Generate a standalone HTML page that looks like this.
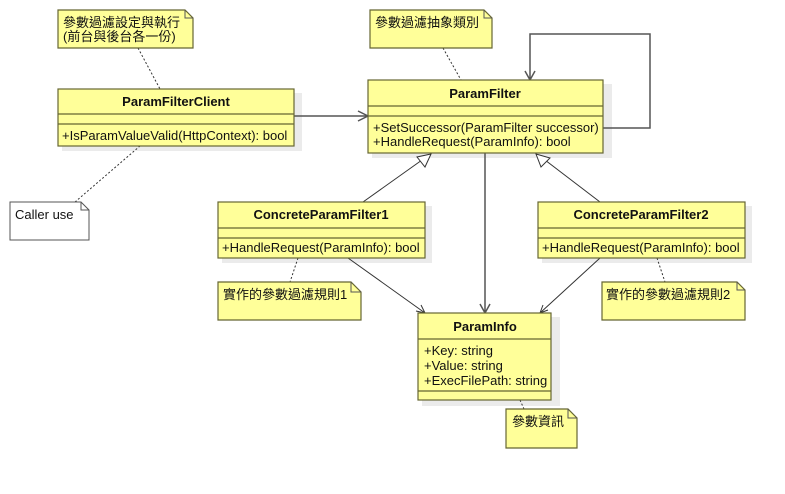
<!DOCTYPE html>
<html><head><meta charset="utf-8"><style>
body{margin:0;background:#fff}
text{font-family:"Liberation Sans","Noto Sans CJK TC",sans-serif;font-size:13px;fill:#111}
.b{font-weight:bold}
</style></head><body>
<svg width="785" height="489" viewBox="0 0 785 489" xmlns="http://www.w3.org/2000/svg">
<g fill="#ebebeb">
<rect x="62" y="93" width="240" height="58"/>
<rect x="372" y="84" width="240" height="74"/>
<rect x="222" y="206" width="210" height="57"/>
<rect x="542" y="206" width="210" height="57"/>
<rect x="422" y="317" width="138" height="89"/>
</g>
<g stroke="#555" fill="none" stroke-width="1.5">
<path d="M294,116H368M358,111L368,116L358,121"/>
<path d="M603,128H650V34H530V80M525,71L530,80L535,71"/>
<path d="M485,153V313M480,304L485,313L490,304"/>
</g>
<g stroke="#333" fill="none" stroke-width="1">
<path d="M363,202L422,160"/>
<path d="M600,202L545,160"/>
<path d="M348,258L425,313M416,311L425,313L421,305"/>
<path d="M600,258L540,313M543,305L540,313L548,310"/>
</g>
<g stroke="#fff" fill="#fff"><polygon points="431,154 425,167 417,157" stroke="#333"/><polygon points="536,154 550,158 541,167" stroke="#333"/></g>
<g stroke="#333" stroke-dasharray="2,2" fill="none">
<path d="M138,48L160,89M75,202L140,146M443,48L461,80M298,258L290,282M657,258L665,282M520,400L524,409"/>
</g>
<g fill="#ffff99" stroke="#666633" stroke-width="1.2">
<path d="M58,10H185L193,18V48H58Z"/>
<path d="M370,10H484L492,18V48H370Z"/>
<path d="M218,282H351L361,292V320H218Z"/>
<path d="M602,282H737L745,290V320H602Z"/>
<path d="M506,409H568L577,418V448H506Z"/>
<rect x="58" y="89" width="236" height="57"/>
<rect x="368" y="80" width="235" height="73"/>
<rect x="218" y="202" width="207" height="56"/>
<rect x="538" y="202" width="207" height="56"/>
<rect x="418" y="313" width="133" height="87"/>
</g>
<path d="M10,202H81L89,210V240H10Z" fill="#fff" stroke="#555"/>
<g fill="none" stroke="#555">
<path d="M185,10V18H193M484,10V18H492M351,282V292H361M737,282V290H745M568,409V418H577M81,202V210H89"/>
</g>
<g stroke="#666633" stroke-width="1.2">
<path d="M58,114H294M58,124H294M368,106H603M368,116H603M218,228H425M218,238H425M538,228H745M538,238H745M418,339H551M418,391H551"/>
</g>
<text x="63" y="27">參數過濾設定與執行</text>
<text x="63" y="41">(前台與後台各一份)</text>
<text x="375" y="27">參數過濾抽象類別</text>
<text x="15" y="219" fill="#444">Caller use</text>
<text x="223" y="299">實作的參數過濾規則1</text>
<text x="606" y="299">實作的參數過濾規則2</text>
<text x="512" y="426">參數資訊</text>
<text class="b" x="176" y="106" text-anchor="middle">ParamFilterClient</text>
<text x="62" y="140">+IsParamValueValid(HttpContext): bool</text>
<text class="b" x="485" y="98" text-anchor="middle">ParamFilter</text>
<text x="373" y="132">+SetSuccessor(ParamFilter successor)</text>
<text x="373" y="146">+HandleRequest(ParamInfo): bool</text>
<text class="b" x="321" y="219" text-anchor="middle">ConcreteParamFilter1</text>
<text x="222" y="252">+HandleRequest(ParamInfo): bool</text>
<text class="b" x="641" y="219" text-anchor="middle">ConcreteParamFilter2</text>
<text x="542" y="252">+HandleRequest(ParamInfo): bool</text>
<text class="b" x="485" y="331" text-anchor="middle">ParamInfo</text>
<text x="424" y="355">+Key: string</text>
<text x="424" y="370">+Value: string</text>
<text x="424" y="385">+ExecFilePath: string</text>
</svg>
</body></html>
